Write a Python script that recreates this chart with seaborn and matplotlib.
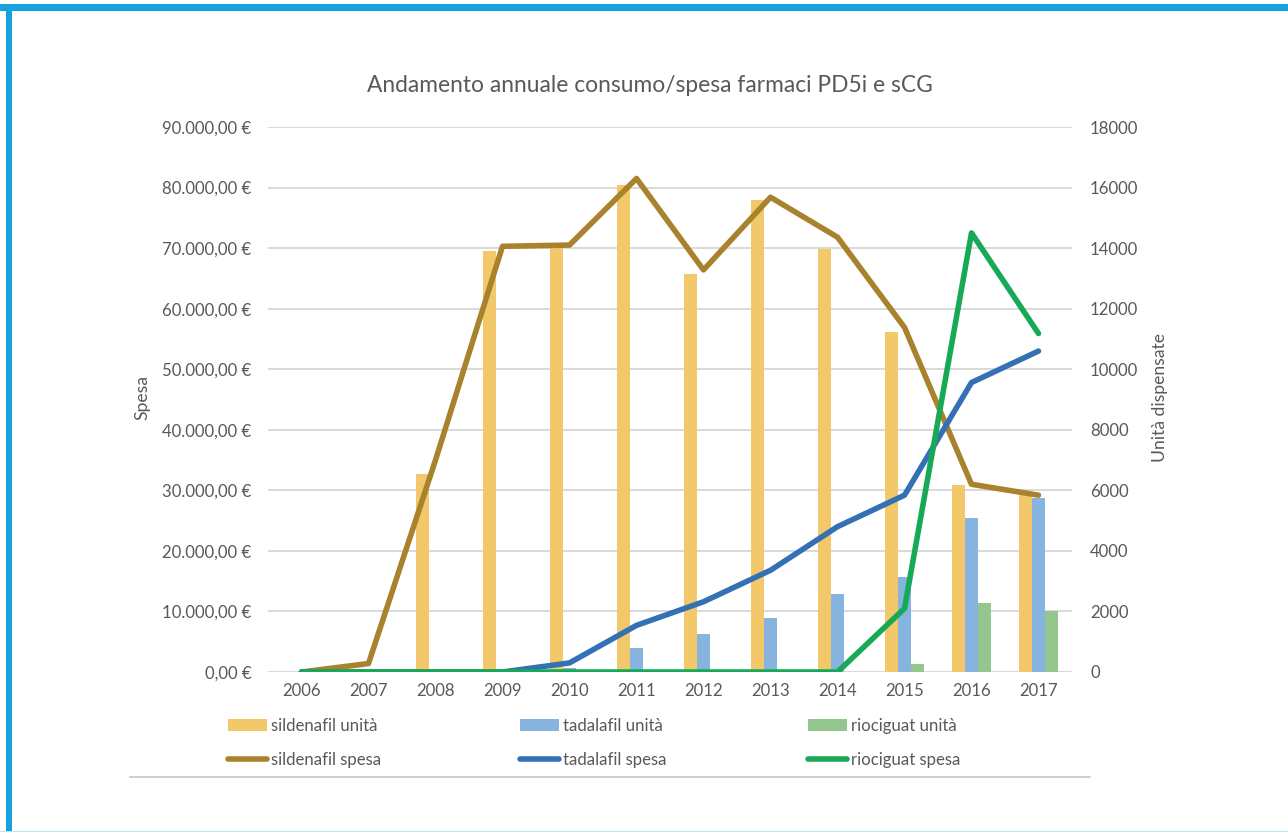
import numpy as np
import pandas as pd
import matplotlib
matplotlib.use("Agg")
import matplotlib.pyplot as plt
from matplotlib import font_manager
from matplotlib.patches import Patch, Rectangle
from matplotlib.lines import Line2D
from matplotlib.ticker import FuncFormatter
import seaborn as sns

# --- dati ---------------------------------------------------------------
anni = ["2006", "2007", "2008", "2009", "2010", "2011",
        "2012", "2013", "2014", "2015", "2016", "2017"]

# unità dispensate (asse destro)
sildenafil_unita = [0, 0, 6550, 13900, 14000, 16100, 13150, 15580, 13980, 11230, 6180, 5900]
tadalafil_unita = [0, 0, 0, 0, 120, 800, 1250, 1800, 2560, 3130, 5100, 5740]
riociguat_unita = [0, 0, 0, 0, 0, 0, 0, 0, 0, 270, 2290, 2010]

# spesa in euro (asse sinistro)
sildenafil_spesa = [0, 1400, 35000, 70300, 70500, 81500, 66400, 78400, 71800, 56900, 31000, 29200]
tadalafil_spesa = [0, 0, 0, 0, 1500, 7700, 11600, 16800, 24000, 29200, 47800, 53000]
riociguat_spesa = [0, 0, 0, 0, 0, 0, 0, 0, 0, 10500, 72500, 55900]

farmaci = ["sildenafil", "tadalafil", "riociguat"]
tick_spesa = [0, 10000, 20000, 30000, 40000, 50000, 60000, 70000, 80000, 90000]
tick_unita = [0, 2000, 4000, 6000, 8000, 10000, 12000, 14000, 16000, 18000]

titolo = "Andamento annuale consumo/spesa farmaci PD5i e sCG"
etichetta_sx = "Spesa"
etichetta_dx = "Unità dispensate"

colori_barre = ["#F3C86A", "#86B4DF", "#93C78E"]
colori_linee = ["#A8822C", "#3470B4", "#18A956"]
grigio_testo = "#595959"

# --- stile ----------------------------------------------------------------
sns.set_theme(style="white")
installati = {f.name for f in font_manager.fontManager.ttflist}
font = next(f for f in ["Liberation Sans Narrow", "Lato", "DejaVu Sans"] if f in installati)
plt.rcParams["font.family"] = [font, "DejaVu Sans"]
scala = 1.0 if font == "Liberation Sans Narrow" else 0.86
fs_tick = 14 * scala
fs_title = 19.1 * scala

W, H = 1288, 832
fig = plt.figure(figsize=(W / 100, H / 100), dpi=100)
fig.patch.set_facecolor("white")

ax = fig.add_axes([268 / W, 1 - 672 / H, 804 / W, 545 / H])
ax2 = ax.twinx()

# --- barre: unità dispensate ----------------------------------------------
df_unita = pd.DataFrame({
    "anno": anni * 3,
    "unita": sildenafil_unita + tadalafil_unita + riociguat_unita,
    "farmaco": sum([[f] * len(anni) for f in farmaci], []),
})
sns.barplot(data=df_unita, x="anno", y="unita", hue="farmaco",
            order=anni, hue_order=farmaci, palette=colori_barre,
            width=0.57, saturation=1, legend=False, ax=ax2, linewidth=0)

# --- linee: spesa ------------------------------------------------------------
pos = list(range(len(anni)))
df_spesa = pd.DataFrame({
    "pos": pos * 3,
    "spesa": sildenafil_spesa + tadalafil_spesa + riociguat_spesa,
    "farmaco": sum([[f] * len(anni) for f in farmaci], []),
})
sns.lineplot(data=df_spesa, x="pos", y="spesa", hue="farmaco",
             hue_order=farmaci, palette=colori_linee, linewidth=4,
             legend=False, ax=ax, sort=False)
for ln in ax.lines:
    ln.set_solid_joinstyle("round")
    ln.set_solid_capstyle("round")

# linee sopra le barre
ax.set_zorder(ax2.get_zorder() + 1)
ax.patch.set_visible(False)

# --- assi ------------------------------------------------------------------
ax.set_xlim(-0.5, len(anni) - 0.5)
ax.set_xticks(pos)
ax.set_xticklabels(anni)
ax.set_xlabel("")
ax2.set_xlabel("")

ax.set_ylim(0, 90000)
ax.set_yticks(tick_spesa)
ax.yaxis.set_major_formatter(FuncFormatter(
    lambda v, p: f"{v:,.2f}".replace(",", "X").replace(".", ",").replace("X", ".") + " €"))
ax2.set_ylim(0, 18000)
ax2.set_yticks(tick_unita)
ax2.yaxis.set_major_formatter(FuncFormatter(lambda v, p: f"{int(v)}"))

ax.grid(False)
ax2.grid(False)
ax2.yaxis.grid(True, color="#D9D9D9", linewidth=1.4)
ax2.set_axisbelow(True)

for a in (ax, ax2):
    for s in a.spines.values():
        s.set_visible(False)

ax.tick_params(axis="y", length=0, pad=12, labelsize=fs_tick, labelcolor=grigio_testo)
ax.tick_params(axis="x", length=0, pad=8, labelsize=fs_tick, labelcolor=grigio_testo)
ax2.tick_params(axis="y", length=0, pad=13, labelsize=fs_tick, labelcolor=grigio_testo)

ax.set_ylabel(etichetta_sx, fontsize=fs_tick * 1.05, color=grigio_testo)
ax.yaxis.set_label_coords(-0.146, 0.503)
ax2.set_ylabel(etichetta_dx, fontsize=fs_tick * 1.05, color=grigio_testo)
ax2.yaxis.set_label_coords(1.099, 0.503)

fig.text(650 / W, 1 - 85 / H, titolo, ha="center", va="center",
         fontsize=fs_title, color=grigio_testo)

# --- legenda: una colonna per farmaco ------------------------------------------
colonne_x = [228, 520, 808]
for f, cb, cl, x0 in zip(farmaci, colori_barre, colori_linee, colonne_x):
    maniglie = [Patch(facecolor=cb, edgecolor="none"),
                Line2D([], [], color=cl, linewidth=4, solid_capstyle="round")]
    etichette = [f"{f} unità", f"{f} spesa"]
    fig.legend(maniglie, etichette, ncol=1, loc="upper left",
               bbox_to_anchor=(x0 / W, 1 - 718 / H),
               frameon=False, fontsize=fs_tick, labelcolor=grigio_testo,
               handlelength=2.35, handleheight=0.75, handletextpad=0.25,
               labelspacing=1.1, borderpad=0, borderaxespad=0)

# --- cornice ---------------------------------------------------------------
fig.add_artist(Line2D([130 / W, 1090 / W], [1 - 777 / H, 1 - 777 / H],
                      color="#D0D0D0", linewidth=1.5, transform=fig.transFigure))
fig.add_artist(Rectangle((0, 1 - 11 / H), 1, 7 / H, transform=fig.transFigure,
                         facecolor="#14A3DC", edgecolor="none"))
fig.add_artist(Rectangle((6 / W, 0), 6 / W, 1 - 4 / H, transform=fig.transFigure,
                         facecolor="#14A3DC", edgecolor="none"))
fig.add_artist(Rectangle((0, 0), 1, 1.5 / H, transform=fig.transFigure,
                         facecolor="#BFE3F2", edgecolor="none"))

fig.savefig("out.png", dpi=100)
